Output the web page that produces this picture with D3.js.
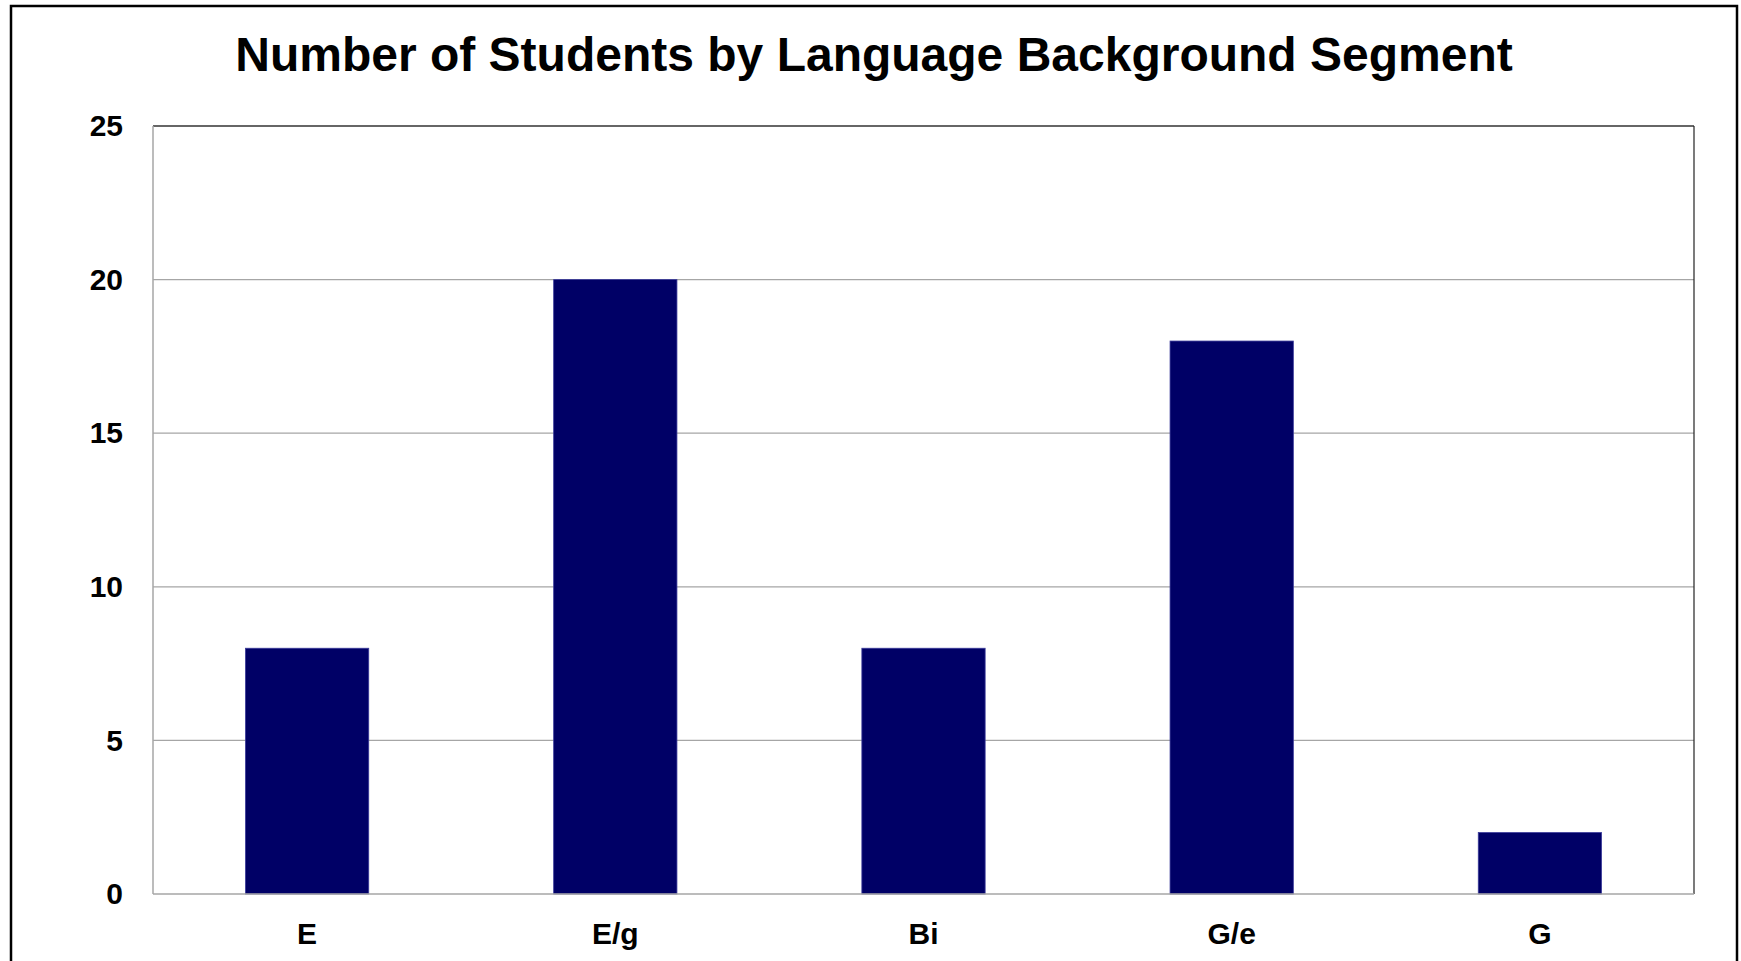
<!DOCTYPE html>
<html><head><meta charset="utf-8">
<script src="https://cdn.jsdelivr.net/npm/d3@7"></script>
<style>html,body{margin:0;padding:0;background:#fff;}svg{display:block;}</style>
</head><body>
<script>
const categories = ["E", "E/g", "Bi", "G/e", "G"];
const values = [8, 20, 8, 18, 2];
const yTicks = [0, 5, 10, 15, 20, 25];
const title = "Number of Students by Language Background Segment";

const W = 1741, H = 961;
const plot = {left: 153, top: 126, right: 1694, bottom: 894};
const svg = d3.select("body").append("svg").attr("width", W).attr("height", H);
svg.append("rect").attr("width", W).attr("height", H).attr("fill", "#fff");

// outer chart border
svg.append("rect").attr("x", 11).attr("y", 6).attr("width", 1726).attr("height", 970)
  .attr("fill", "none").attr("stroke", "#000").attr("stroke-width", 2.5);

const x = d3.scaleBand().domain(categories).range([plot.left, plot.right])
  .paddingInner(0.6).paddingOuter(0.3);
const y = d3.scaleLinear().domain([0, 25]).range([plot.bottom, plot.top]);

// gridlines
svg.append("g").selectAll("line").data(yTicks.filter(t => t > 0 && t < 25)).join("line")
  .attr("x1", plot.left).attr("x2", plot.right)
  .attr("y1", d => y(d)).attr("y2", d => y(d))
  .attr("stroke", "#a6a6a6").attr("stroke-width", 1.3);

// bars
svg.append("g").selectAll("rect").data(values).join("rect")
  .attr("x", (d, i) => x(categories[i]))
  .attr("y", d => y(d))
  .attr("width", x.bandwidth())
  .attr("height", d => y(0) - y(d))
  .attr("fill", "#000066")
  .attr("stroke", "#3a3a99").attr("stroke-width", 0.8);

// plot border
const b = svg.append("g");
b.append("line").attr("x1", plot.left).attr("x2", plot.right).attr("y1", plot.top).attr("y2", plot.top)
  .attr("stroke", "#666").attr("stroke-width", 2);
b.append("line").attr("x1", plot.left).attr("x2", plot.left).attr("y1", plot.top).attr("y2", plot.bottom)
  .attr("stroke", "#a6a6a6").attr("stroke-width", 1.5);
b.append("line").attr("x1", plot.right).attr("x2", plot.right).attr("y1", plot.top).attr("y2", plot.bottom)
  .attr("stroke", "#222").attr("stroke-width", 1.2);
b.append("line").attr("x1", plot.left).attr("x2", plot.right).attr("y1", plot.bottom).attr("y2", plot.bottom)
  .attr("stroke", "#a6a6a6").attr("stroke-width", 1.5);

// y axis labels
const yAxis = d3.axisLeft(y).tickValues(yTicks).tickSize(0).tickPadding(30);
const gy = svg.append("g").attr("transform", `translate(${plot.left},0)`).call(yAxis);
gy.select(".domain").remove();
gy.selectAll("text").attr("font-family", "Liberation Sans, Arial, sans-serif")
  .attr("font-weight", "bold").attr("font-size", 30).attr("fill", "#000");

// x axis labels
const xAxis = d3.axisBottom(x).tickSize(0).tickPadding(29);
const gx = svg.append("g").attr("transform", `translate(0,${plot.bottom})`).call(xAxis);
gx.select(".domain").remove();
gx.selectAll("text").attr("font-family", "Liberation Sans, Arial, sans-serif")
  .attr("font-weight", "bold").attr("font-size", 30).attr("fill", "#000");

// title
svg.append("text").attr("x", 874).attr("y", 71).attr("text-anchor", "middle")
  .attr("font-family", "Liberation Sans, Arial, sans-serif").attr("font-weight", "bold")
  .attr("font-size", 48).attr("fill", "#000").text(title);
</script>
</body></html>
